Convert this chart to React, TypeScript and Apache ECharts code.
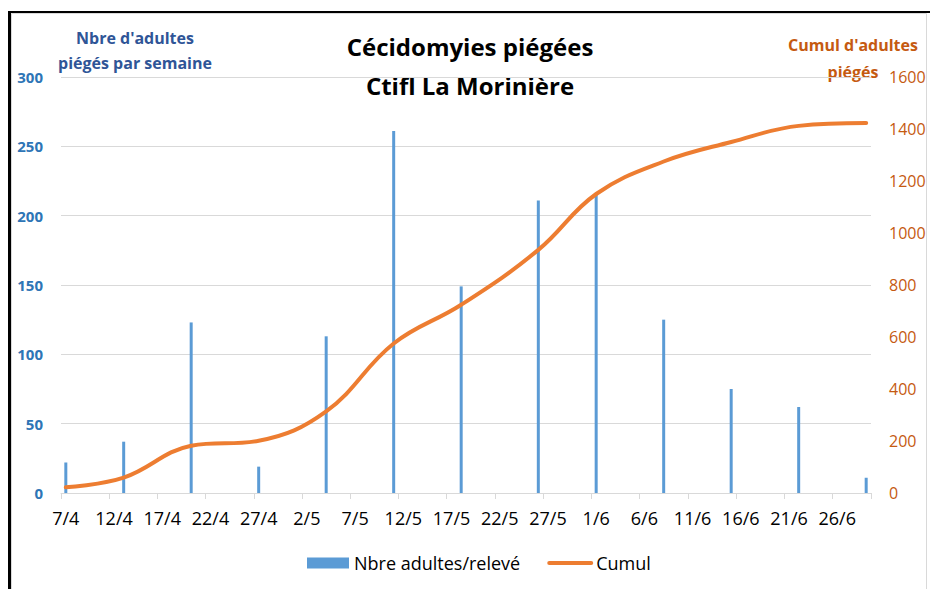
import React, { useEffect, useRef } from 'react';
import * as echarts from 'echarts';

// Daily category axis: 7/4 -> 29/6
const startDay = Date.UTC(2021, 3, 7);
const dayCount = 84;
const days: string[] = Array.from({ length: dayCount }, (_, i) => {
  const d = new Date(startDay + i * 86400000);
  return `${d.getUTCDate()}/${d.getUTCMonth() + 1}`;
});

// Trap readings
const sampleDates = ['7/4', '13/4', '20/4', '27/4', '4/5', '11/5', '18/5', '26/5', '1/6', '8/6', '15/6', '22/6', '29/6'];
const adults = [22, 37, 123, 19, 113, 261, 149, 211, 215, 125, 75, 62, 11];
const cumul = [22, 59, 182, 201, 314, 575, 724, 935, 1150, 1275, 1350, 1412, 1423];

const FONT = 'Open Sans';

export default function App() {
  const ref = useRef<HTMLDivElement>(null);
  useEffect(() => {
    if (!ref.current) return;
    const chart = echarts.init(ref.current, undefined, { renderer: 'svg' });
    chart.setOption({
      animation: false,
      backgroundColor: '#ffffff',
      textStyle: { fontFamily: FONT },
      grid: { left: 61, right: 59, top: 77, bottom: 96, containLabel: false },
      legend: {
        top: 549,
        left: 302,
        itemWidth: 42,
        itemHeight: 11,
        itemGap: 27,
        textStyle: { fontFamily: FONT, fontSize: 18, color: '#000000' },
        data: [
          { name: 'Nbre adultes/relevé', icon: 'rect' },
          { name: 'Cumul', itemStyle: { opacity: 0 }, lineStyle: { width: 4, cap: 'round' } },
        ],
      },
      xAxis: {
        type: 'category',
        data: days,
        boundaryGap: true,
        axisLine: { lineStyle: { color: '#D9D9D9', width: 1 } },
        axisTick: { show: true, interval: 4, length: 6, lineStyle: { color: '#D9D9D9' } },
        axisLabel: { interval: 4, fontFamily: FONT, fontSize: 18, color: '#000000', margin: 16 },
        splitLine: { show: false },
      },
      yAxis: [
        {
          type: 'value',
          min: 0,
          max: 300,
          interval: 50,
          axisLine: { show: false },
          axisTick: { show: false },
          axisLabel: { fontFamily: FONT, fontSize: 15, fontWeight: 'bold', color: '#2E75B6', margin: 18 },
          splitLine: { lineStyle: { color: '#D9D9D9', width: 1 } },
        },
        {
          type: 'value',
          min: 0,
          max: 1600,
          interval: 200,
          position: 'right',
          axisLine: { show: false },
          axisTick: { show: false },
          axisLabel: {
            fontFamily: FONT,
            fontSize: 16,
            color: '#C55A11',
            margin: 18,
            formatter: (v: number) => String(v),
          },
          splitLine: { show: false },
        },
      ],
      series: [
        {
          name: 'Nbre adultes/relevé',
          type: 'bar',
          barWidth: 3,
          itemStyle: { color: '#5B9BD5' },
          data: sampleDates.map((d, i) => [d, adults[i]]),
        },
        {
          name: 'Cumul',
          type: 'line',
          yAxisIndex: 1,
          smooth: 0.4,
          symbol: 'none',
          showSymbol: false,
          lineStyle: { color: '#ED7D31', width: 4, cap: 'round', join: 'round' },
          itemStyle: { color: '#ED7D31' },
          z: 5,
          data: sampleDates.map((d, i) => [d, cumul[i]]),
        },
      ],
      graphic: [
        { type: 'rect', shape: { x: 11.5, y: 13.5, width: 915, height: 590 }, style: { fill: 'none', stroke: '#D9D9D9', lineWidth: 1 }, silent: true },
        { type: 'rect', shape: { x: 8, y: 11, width: 3, height: 578 }, style: { fill: '#000000' }, silent: true },
        { type: 'rect', shape: { x: 8, y: 11, width: 922, height: 2 }, style: { fill: '#000000' }, silent: true },
        {
          type: 'text',
          x: 470,
          y: 66,
          style: {
            text: 'Cécidomyies piégées\nCtifl La Morinière',
            fontFamily: FONT,
            fontSize: 24,
            fontWeight: 'bold',
            fill: '#000000',
            align: 'center',
            verticalAlign: 'middle',
            lineHeight: 39,
          },
        },
        {
          type: 'text',
          x: 135,
          y: 50,
          style: {
            text: "Nbre d'adultes\npiégés par semaine",
            fontFamily: FONT,
            fontSize: 16,
            fontWeight: 'bold',
            fill: '#2F5597',
            align: 'center',
            verticalAlign: 'middle',
            lineHeight: 25,
          },
        },
        {
          type: 'text',
          x: 853,
          y: 58,
          style: {
            text: "Cumul d'adultes\npiégés",
            fontFamily: FONT,
            fontSize: 16,
            fontWeight: 'bold',
            fill: '#C55A11',
            align: 'center',
            verticalAlign: 'middle',
            lineHeight: 27,
          },
        },
      ],
    });
    return () => chart.dispose();
  }, []);
  return (
    <div
      ref={ref}
      style={{ position: 'fixed', left: 0, top: 0, width: 930, height: 589 }}
    />
  );
}
